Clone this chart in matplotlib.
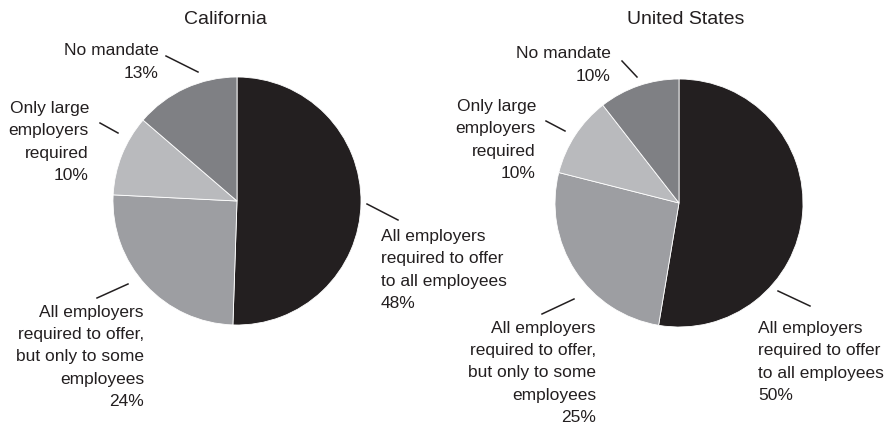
import matplotlib.pyplot as plt

plt.rcParams['font.family'] = ['Liberation Sans', 'DejaVu Sans']

# data
kategoriler = ['All employers\nrequired to offer\nto all employees',
               'All employers\nrequired to offer,\nbut only to some\nemployees',
               'Only large\nemployers\nrequired',
               'No mandate']
california = [48, 24, 10, 13]
abd = [50, 25, 10, 10]
basliklar = ['California', 'United States']
renkler = ['#231f20', '#9d9ea2', '#b9babd', '#7f8084']

# layout in pixel coordinates (y measured from top of image)
W, H = 886, 428
merkezler = [(237, 201), (679, 203)]
yaricap = 124
baslik_konum = [(225, 19), (686, 19)]
# (text x, text y, align, line start, line end) per slice
etiket_konum = [
    [(381, 270, 'left', (367, 204), (398, 220)),
     (144, 357, 'right', (97, 298), (128, 284)),
     (89, 142, 'right', (100, 123), (118, 133)),
     (159, 62, 'right', (166, 56), (198, 72))],
    [(758, 362, 'left', (778, 291), (810, 306)),
     (596, 373, 'right', (542, 314), (574, 299)),
     (536, 140, 'right', (546, 121), (565, 131)),
     (611, 65, 'right', (622, 61), (637, 77))],
]

fig = plt.figure(figsize=(W / 100, H / 100), dpi=100)
ax = fig.add_axes([0, 0, 1, 1])

for veri, baslik, (cx, cy), (tx, ty), konum in zip(
        [california, abd], basliklar, merkezler, baslik_konum, etiket_konum):
    ax.pie(veri, colors=renkler, startangle=90, counterclock=False,
           center=(cx, H - cy), radius=yaricap, frame=True,
           wedgeprops=dict(edgecolor='white', linewidth=0.6))
    ax.text(tx, H - ty, baslik, ha='center', va='center', fontsize=14,
            color='#231f20')
    for kat, deger, (x, y, hiza, p0, p1) in zip(kategoriler, veri, konum):
        ax.text(x, H - y, f'{kat}\n{deger}%', ha=hiza, va='center',
                multialignment=hiza, fontsize=12.5, color='#231f20',
                linespacing=1.6)
        ax.plot([p0[0], p1[0]], [H - p0[1], H - p1[1]], color='#231f20',
                linewidth=1.1)

ax.set_xlim(0, W)
ax.set_ylim(0, H)
ax.set_aspect('auto')
ax.axis('off')

plt.savefig('out.png', dpi=100)
